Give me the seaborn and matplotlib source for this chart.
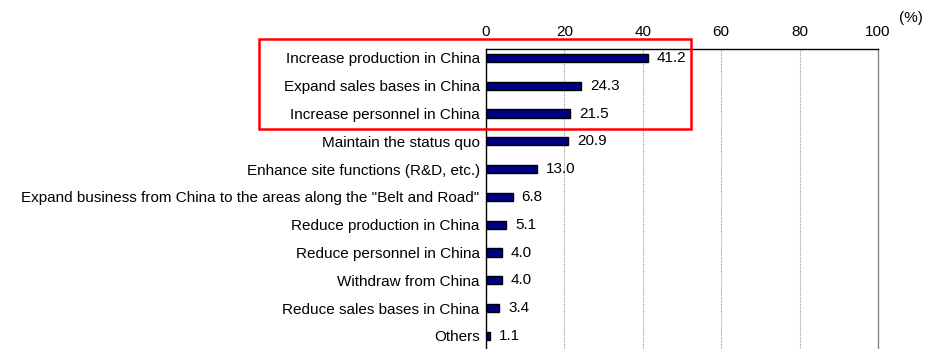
import matplotlib
matplotlib.use("Agg")
import matplotlib.pyplot as plt
import matplotlib.patches as mpatches
import seaborn as sns
import pandas as pd

categories = [
    "Increase production in China",
    "Expand sales bases in China",
    "Increase personnel in China",
    "Maintain the status quo",
    "Enhance site functions (R&D, etc.)",
    'Expand business from China to the areas along the "Belt and Road"',
    "Reduce production in China",
    "Reduce personnel in China",
    "Withdraw from China",
    "Reduce sales bases in China",
    "Others",
]
values = [41.2, 24.3, 21.5, 20.9, 13.0, 6.8, 5.1, 4.0, 4.0, 3.4, 1.1]
x_ticks = [0, 20, 40, 60, 80, 100]

df = pd.DataFrame({"item": categories, "share": values})

sns.set_style("white")
plt.rcParams["font.family"] = ["Liberation Sans", "DejaVu Sans"]
plt.rcParams["text.color"] = "black"
plt.rcParams["xtick.color"] = "black"
plt.rcParams["ytick.color"] = "black"
FS = 11

fig = plt.figure(figsize=(9.43, 3.49), dpi=100)
ax = fig.add_axes([486 / 943, 0.0, 392 / 943, 1 - 49 / 349])

sns.barplot(data=df, x="share", y="item", ax=ax, color="#000080",
            edgecolor="black", linewidth=1.0, width=0.3, saturation=1)

ax.set_xlim(0, 100)
ax.set_ylim(10.47, -0.32)
ax.set_xlabel("")
ax.set_ylabel("")
ax.xaxis.tick_top()
ax.set_xticks(x_ticks)
ax.set_xticklabels([str(t) for t in x_ticks], fontsize=FS)
ax.tick_params(axis="x", length=0, pad=7.5)
ax.tick_params(axis="y", length=0, pad=4.5, labelsize=FS)

# category boundary ticks on the left spine
ax.set_yticks([i + 0.5 for i in range(len(categories) - 1)], minor=True)
ax.tick_params(axis="y", which="minor", direction="in", length=3,
               color="#999999", width=0.8)

for t in x_ticks[1:-1]:
    ax.axvline(t, color="#999999", linestyle=(0, (1, 1)), linewidth=0.8, zorder=0)

ax.spines["bottom"].set_visible(False)
ax.spines["left"].set_color("black")
ax.spines["left"].set_linewidth(1.0)
ax.spines["top"].set_color("black")
ax.spines["top"].set_linewidth(1.0)
ax.spines["right"].set_color("#888888")
ax.spines["right"].set_linewidth(1.0)

for i, v in enumerate(values):
    ax.annotate(f"{v:.1f}", xy=(v, i), xytext=(6.5, 0), textcoords="offset points",
                va="center", ha="left", fontsize=FS)

fig.text(899 / 943, 1 - 18 / 349, "(%)", fontsize=FS, ha="left", va="center")

# highlight box around the top three items
fig.patches.append(mpatches.Rectangle(
    (259 / 943, 1 - 129 / 349), (691 - 259) / 943, (129 - 39) / 349,
    transform=fig.transFigure, fill=False, edgecolor="red", linewidth=1.8,
    zorder=10))

fig.savefig("out.png", dpi=100)
